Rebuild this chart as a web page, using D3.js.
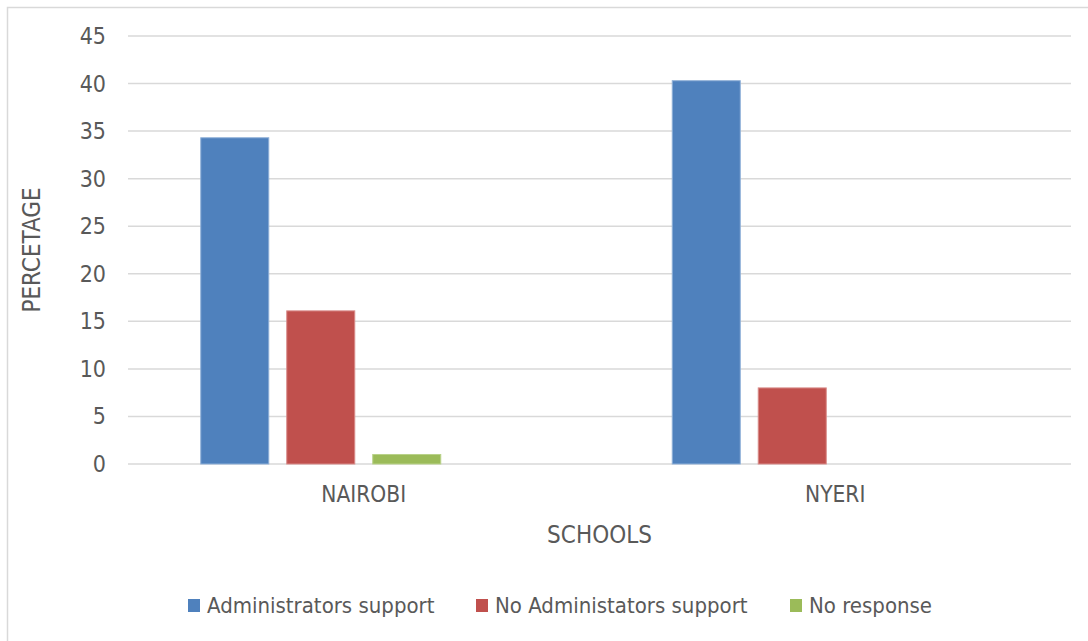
<!DOCTYPE html>
<html>
<head>
<meta charset="utf-8">
<script src="https://cdn.jsdelivr.net/npm/d3@7"></script>
<style>
  body { margin: 0; background: #fff; }
  text { font-family: "Liberation Sans Narrow", "DejaVu Sans Condensed", sans-serif; fill: #595959; }
</style>
</head>
<body>
<div class="container"></div>
<script>
const width = 1088;
const height = 641;

// chart data
const schools = ['NAIROBI', 'NYERI'];
const seriesNames = ['Administrators support', 'No Administators support', 'No response'];
const adminSupport = [34.3, 40.3];
const noAdminSupport = [16.1, 8.0];
const noResponse = [1.0, 0];
const yTicks = [0, 5, 10, 15, 20, 25, 30, 35, 40, 45];
const colors = ['#4F81BD', '#C0504D', '#9BBB59'];
const edgeColors = ['#8fb0d8', '#d98c8a', '#b9d28a'];

const values = [adminSupport, noAdminSupport, noResponse];

const margin = {top: 36, right: 17, bottom: 177, left: 128};

const svg = d3.select('.container')
                .append('svg')
                .attr('width', width)
                .attr('height', height);

// outer frame
svg.append('rect')
    .attr('x', 7.5)
    .attr('y', 7.5)
    .attr('width', width + 10)
    .attr('height', height + 10)
    .attr('fill', 'none')
    .attr('stroke', '#d9d9d9')
    .attr('stroke-width', 1.5);

const x0 = d3.scaleBand()
             .domain(schools)
             .range([margin.left, width - margin.right]);

// excel leaves room for a fourth (empty) slot in each cluster
const x1 = d3.scaleBand()
             .domain(d3.range(4))
             .range([72.75, x0.bandwidth() - 72.75])
             .paddingInner(0.209);

const y = d3.scaleLinear()
            .domain([0, 45])
            .range([height - margin.bottom, margin.top]);

// gridlines
svg.append('g')
    .selectAll('line')
    .data(yTicks)
    .enter()
    .append('line')
    .attr('x1', margin.left)
    .attr('x2', width - margin.right)
    .attr('y1', d => y(d))
    .attr('y2', d => y(d))
    .attr('stroke', '#d9d9d9')
    .attr('stroke-width', 1.5);

// y tick labels
svg.append('g')
    .selectAll('text')
    .data(yTicks)
    .enter()
    .append('text')
    .attr('x', 106)
    .attr('y', d => y(d))
    .attr('dy', '0.35em')
    .attr('text-anchor', 'end')
    .style('font-size', '23px')
    .text(d => d);

// bars
const groups = svg.append('g')
    .selectAll('g')
    .data(schools)
    .enter()
    .append('g')
    .attr('transform', d => `translate(${x0(d)},0)`);

groups.selectAll('rect')
    .data((d, i) => values.map((v, s) => ({s: s, v: v[i]})))
    .enter()
    .append('rect')
    .attr('x', d => x1(d.s))
    .attr('width', x1.bandwidth())
    .attr('y', d => y(d.v))
    .attr('height', d => y(0) - y(d.v))
    .attr('fill', d => colors[d.s])
    .attr('stroke', d => d.v > 0 ? edgeColors[d.s] : 'none')
    .attr('stroke-width', 1);

// category labels
svg.append('g')
    .selectAll('text')
    .data(schools)
    .enter()
    .append('text')
    .attr('x', d => x0(d) + x0.bandwidth() / 2)
    .attr('y', 502)
    .attr('text-anchor', 'middle')
    .style('font-size', '22.5px')
    .text(d => d);

// axis titles
svg.append('text')
    .attr('x', (margin.left + width - margin.right) / 2)
    .attr('y', 543)
    .attr('text-anchor', 'middle')
    .style('font-size', '24px')
    .text('SCHOOLS');

svg.append('text')
    .attr('transform', `translate(40,${(y(0) + y(45)) / 2}) rotate(-90)`)
    .attr('text-anchor', 'middle')
    .style('font-size', '24px')
    .text('PERCETAGE');

// legend
const legendX = [188, 476, 790];
const legend = svg.append('g')
    .selectAll('g')
    .data(seriesNames)
    .enter()
    .append('g')
    .attr('transform', (d, i) => `translate(${legendX[i]},599)`);

legend.append('rect')
    .attr('width', 12)
    .attr('height', 13)
    .attr('fill', (d, i) => colors[i]);

legend.append('text')
    .attr('x', 19)
    .attr('y', 14)
    .style('font-size', '22px')
    .text(d => d);
</script>
</body>
</html>
